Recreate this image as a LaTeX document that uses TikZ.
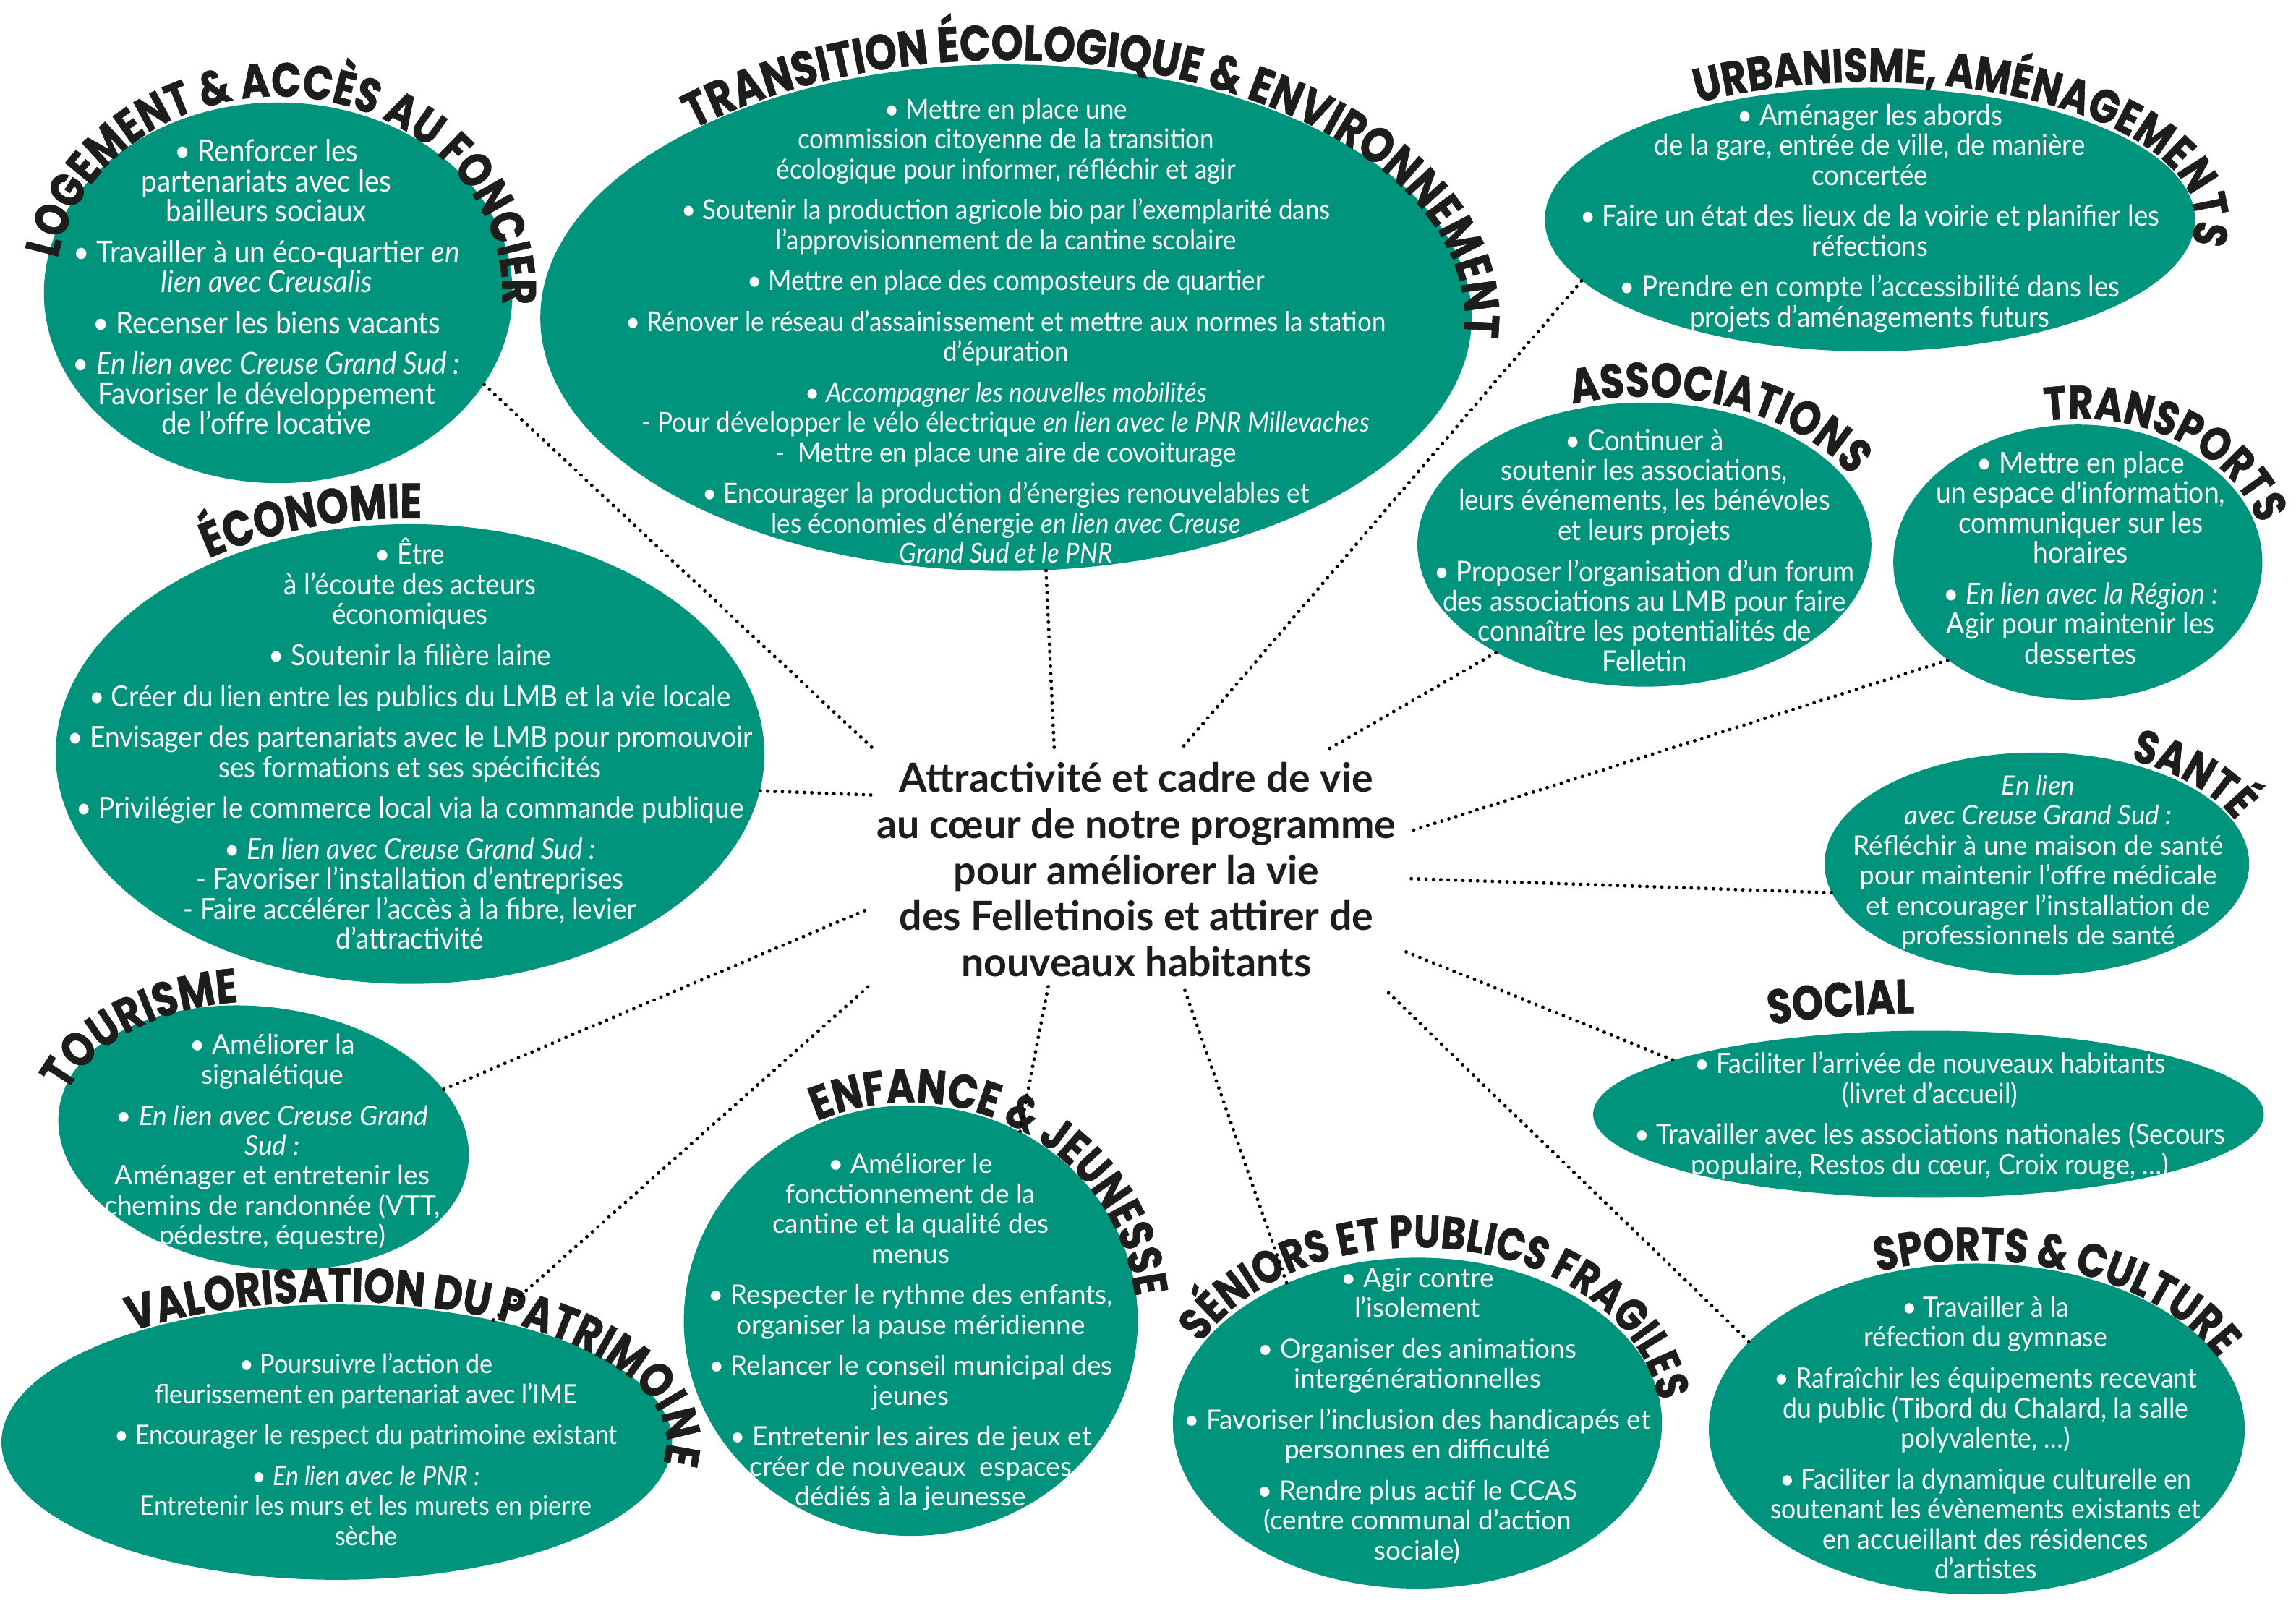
\documentclass[tikz,border=0pt]{standalone}
\usepackage{fontspec}
\setmainfont{Lato}
\newfontfamily\condf{Lato}[FakeStretch=0.92]
\newfontfamily\titlef{Poppins}[FakeStretch=0.82,BoldFeatures={FakeBold=0.8}]
\usetikzlibrary{decorations.text,shapes.geometric}
\definecolor{vert}{RGB}{0,148,125}
\definecolor{titre}{RGB}{29,29,27}
% #1 cx, #2 cy, #3 rx, #4 ry, #5 start angle, #6 size, #7 text
\newcommand\titre[7]{\path[decorate,decoration={text along path,text align=left,text color=titre,text={|\titlef\bfseries\fontsize{#6}{#6}\selectfont|#7}}] (#1,#2) ++(#5:#3 and #4) arc[start angle=#5,end angle={#5-200},x radius=#3,y radius=#4];}
\newcommand\cf[1]{\condf\fontsize{#1}{11.8}\selectfont}
\newcommand\rf[1]{\fontsize{#1}{11.8}\selectfont}
\begin{document}
\begin{tikzpicture}[x=0.02025cm,y=0.02025cm,
  bulle/.style n args={2}{ellipse,fill=vert,draw=none,inner sep=0pt,minimum width={2*#1*0.02025cm},minimum height={2*#2*0.02025cm}},
  corps/.style={text=white,align=center,inner sep=0pt},
  pointille/.style={line width=1.4pt,dash pattern=on 0pt off 2.9pt,line cap=round,black}]
\useasboundingbox (0,0) rectangle (1568,-1109);
\fill[white] (0,0) rectangle (1568,-1109);

% ellipses
\node[bulle={160}{130}] (log) at (190,-200) {};
\node[bulle={318}{173}] (tra) at (687,-217) {};
\node[bulle={222}{90}] (urb) at (1277,-150) {};
\node[bulle={155}{97}] (ass) at (1123,-372) {};
\node[bulle={126}{94}] (trp) at (1419,-384) {};
\node[bulle={242}{157}] (eco) at (280,-515) {};
\node[bulle={145}{76}] (san) at (1391,-590) {};
\node[bulle={229}{57}] (soc) at (1317,-761) {};
\node[bulle={141}{89},rotate=-8] (tou) at (180,-777) {};
\node[bulle={155}{147}] (enf) at (622,-902) {};
\node[bulle={167}{113}] (sen) at (968,-972) {};
\node[bulle={183}{113}] (spo) at (1350,-976) {};
\node[bulle={229}{94}] (val) at (230,-985) {};

% texts
\node[corps,font=\cf{11.95}] (log-t) at (182,-196) {• Renforcer les\\partenariats avec les\\bailleurs sociaux\\[4.3pt]
• Travailler à un éco-quartier \textit{en}\\\textit{lien avec Creusalis}\\[4.3pt]
• Recenser les biens vacants\\[4.3pt]
• \textit{En lien avec Creuse Grand Sud :}\\Favoriser le développement\\de l’offre locative};

\node[corps,font=\cf{10.8}] (tra-t) at (687,-226) {• Mettre en place une\\commission citoyenne de la transition\\écologique pour informer, réfléchir et agir\\[4.3pt]
• Soutenir la production agricole bio par l’exemplarité dans\\l’approvisionnement de la cantine scolaire\\[4.3pt]
• Mettre en place des composteurs de quartier\\[4.3pt]
• Rénover le réseau d’assainissement et mettre aux normes la station\\d’épuration\\[4.3pt]
• \textit{Accompagner les nouvelles mobilités}\\- Pour développer le vélo électrique \textit{en lien avec le PNR Millevaches}\\-\ \ Mettre en place une aire de covoiturage\\[4.3pt]
• Encourager la production d’énergies renouvelables et\\les économies d’énergie \textit{en lien avec Creuse}\\\textit{Grand Sud et le PNR}};

\node[corps,font=\cf{11.35}] (urb-t) at (1277,-149) {• Aménager les abords\\de la gare, entrée de ville, de manière\\concertée\\[4.3pt]
• Faire un état des lieux de la voirie et planifier les\\réfections\\[4.3pt]
• Prendre en compte l’accessibilité dans les\\projets d’aménagements futurs};

\node[corps,font=\cf{11.3}] (ass-t) at (1123,-376) {• Continuer à\\soutenir les associations,\\leurs événements, les bénévoles\\et leurs projets\\[4.3pt]
• Proposer l’organisation d’un forum\\des associations au LMB pour faire\\connaître les potentialités de\\Felletin};

\node[corps,font=\cf{11.5}] (trp-t) at (1421,-381) {• Mettre en place\\un espace d'information,\\communiquer sur les\\horaires\\[4.3pt]
• \textit{En lien avec la Région :}\\Agir pour maintenir les\\dessertes};

\node[corps,font=\cf{11.45}] (eco-t) at (280,-508) {• Être\\à l’écoute des acteurs\\économiques\\[4.3pt]
• Soutenir la filière laine\\[4.3pt]
• Créer du lien entre les publics du LMB et la vie locale\\[4.3pt]
• Envisager des partenariats avec le LMB pour promouvoir\\ses formations et ses spécificités\\[4.3pt]
• Privilégier le commerce local via la commande publique\\[4.3pt]
• \textit{En lien avec Creuse Grand Sud :}\\- Favoriser l’installation d’entreprises\\- Faire accélérer l’accès à la fibre, levier\\d’attractivité};

\node[corps,font=\rf{10.5}] (san-t) at (1392,-589) {\textit{En lien}\\\textit{avec Creuse Grand Sud :}\\Réfléchir à une maison de santé\\pour maintenir l’offre médicale\\et encourager l’installation de\\professionnels de santé};

\node[corps,font=\cf{11.1}] (soc-t) at (1318,-762) {• Faciliter l’arrivée de nouveaux habitants\\(livret d’accueil)\\[4.3pt]
• Travailler avec les associations nationales (Secours\\populaire, Restos du cœur, Croix rouge, …)};

\node[corps,font=\rf{10.6}] (tou-t) at (186,-780) {• Améliorer la\\signalétique\\[4.3pt]
• \textit{En lien avec Creuse Grand}\\\textit{Sud :}\\Aménager et entretenir les\\chemins de randonnée (VTT,\\pédestre, équestre)};

\node[corps,font=\rf{10.5}] (enf-t) at (622,-910) {• Améliorer le\\fonctionnement de la\\cantine et la qualité des\\menus\\[4.3pt]
• Respecter le rythme des enfants,\\organiser la pause méridienne\\[4.3pt]
• Relancer le conseil municipal des\\jeunes\\[4.3pt]
• Entretenir les aires de jeux et\\créer de nouveaux\ \ espaces\\dédiés à la jeunesse};

\node[corps,font=\rf{10.5}] (sen-t) at (968,-967) {• Agir contre\\l’isolement\\[4.3pt]
• Organiser des animations\\intergénérationnelles\\[4.3pt]
• Favoriser l’inclusion des handicapés et\\personnes en difficulté\\[4.3pt]
• Rendre plus actif le CCAS\\(centre communal d’action\\sociale)};

\node[corps,font=\cf{11.0}] (spo-t) at (1356,-982) {• Travailler à la\\réfection du gymnase\\[4.3pt]
• Rafraîchir les équipements recevant\\du public (Tibord du Chalard, la salle\\polyvalente, …)\\[4.3pt]
• Faciliter la dynamique culturelle en\\soutenant les évènements existants et\\en accueillant des résidences\\d’artistes};

\node[corps,font=\cf{10.55}] (val-t) at (250,-990) {• Poursuivre l’action de\\fleurissement en partenariat avec l’IME\\[4.3pt]
• Encourager le respect du patrimoine existant\\[4.3pt]
• \textit{En lien avec le PNR :}\\Entretenir les murs et les murets en pierre\\sèche};

% centre
\node[align=center,inner sep=0pt,text=titre,font=\bfseries\fontsize{15.8}{18.1}\selectfont] (ctr) at (776,-594) {Attractivité et cadre de vie\\au cœur de notre programme\\pour améliorer la vie\\des Felletinois et attirer de\\nouveaux habitants};

% titles
\titre{190}{-200}{153}{134}{170}{18.9}{LOGEMENT {\&} ACCÈS AU FONCIER}
\titre{687}{-217}{313}{176}{133}{19.5}{TRANSITION ÉCOLOGIQUE {\&} ENVIRONNEMENT}
\titre{1277}{-150}{222}{94}{122}{18.7}{URBANISME, AMÉNAGEMENTS}
\titre{1123}{-372}{159}{101}{108}{19}{ASSOCIATIONS}
\titre{1419}{-384}{128}{98}{100}{18.5}{TRANSPORTS}
\titre{280}{-515}{246}{161}{124}{19.5}{ÉCONOMIE}
\titre{1391}{-590}{146}{79}{64}{18.3}{SANTÉ}
\titre{1317}{-760}{231}{68}{118}{19}{SOCIAL}
\titre{177}{-776}{139}{92}{161}{19}{TOURISME}
\titre{621}{-902}{155}{149}{114}{18.8}{ENFANCE {\&} JEUNESSE}
\titre{968}{-972}{166}{120}{153}{18}{SÉNIORS ET PUBLICS FRAGILES}
\titre{1348}{-976}{184}{115}{111}{18.6}{SPORTS {\&} CULTURE}
\titre{229}{-985}{226}{96}{128}{19}{VALORISATION DU PATRIMOINE}

% connectors
\coordinate (k-log) at (597,-512);
\coordinate (k-tra) at (720,-512);
\coordinate (k-urb) at (808,-510);
\coordinate (k-ass) at (905,-513);
\coordinate (k-trp) at (962,-568);
\coordinate (k-eco) at (595,-543);
\coordinate (k-san) at (960,-600);
\coordinate (k-soc) at (960,-650);
\coordinate (k-tou) at (595,-620);
\coordinate (k-enf) at (716,-673);
\coordinate (k-sen) at (808,-673);
\coordinate (k-spo) at (945,-675);
\coordinate (k-val) at (595,-672);
\draw[pointille] (log.-24) -- (k-log);
\draw[pointille] (tra.-81) -- (k-tra);
\draw[pointille] (urb.-168) -- (k-urb);
\draw[pointille] (ass.216) -- (k-ass);
\draw[pointille] (trp.217) -- (k-trp);
\draw[pointille] (eco.-6) -- (k-eco);
\draw[pointille] (san.188) -- (k-san);
\draw[pointille] (soc.168) -- (k-soc);
\draw[pointille] (tou.23) -- (k-tou);
\draw[pointille] (enf.60) -- (k-enf);
\draw[pointille] (sen.133) -- (k-sen);
\draw[pointille] (spo.159) -- (k-spo);
\draw[pointille] (val.38) -- (k-val);
\end{tikzpicture}
\end{document}
